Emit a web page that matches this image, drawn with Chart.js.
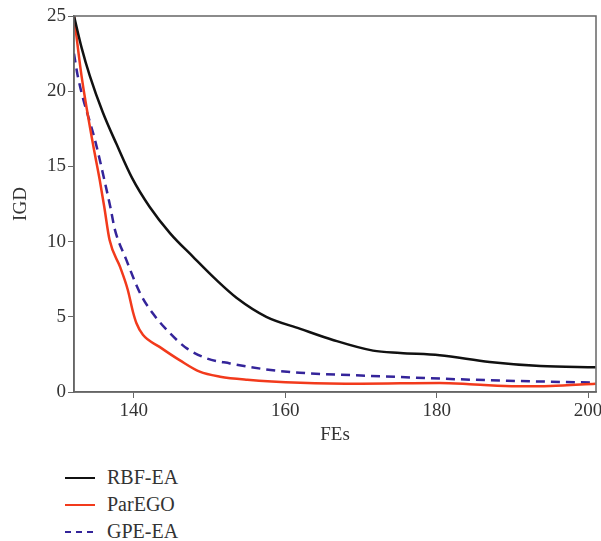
<!DOCTYPE html>
<html>
<head>
<meta charset="utf-8">
<script src="https://cdn.jsdelivr.net/npm/chart.js@4/dist/chart.umd.min.js"></script>
<style>
  html, body { margin: 0; padding: 0; background: #fff; }
  #wrap { position: relative; width: 601px; height: 450px; }
  #legend { position: absolute; left: 65px; top: 464px; font-family: "Liberation Serif", serif; font-size: 20px; color: #333; }
  .item { height: 27px; display: flex; align-items: center; }
  .sw { width: 30px; height: 2px; margin-right: 12px; }
</style>
</head>
<body>
<div id="wrap"><canvas id="c"></canvas></div>
<div id="legend"></div>
<script>
const seriesNames = ["RBF-EA", "ParEGO", "GPE-EA"];
const rbfX = [132.1, 133.1, 134.2, 135.9, 137.7, 139.8, 142.1, 144.8, 147.8, 150.9, 153.6, 157.5, 162.0, 166.3, 171.6, 175.2, 180.4, 187, 193.7, 201];
const rbfY = [25, 22.9, 21.0, 18.6, 16.5, 14.2, 12.3, 10.55, 9.0, 7.45, 6.25, 5.0, 4.2, 3.46, 2.75, 2.6, 2.45, 2.0, 1.73, 1.64];
const parX = [132.1, 133.1, 134.6, 135.5, 136.1, 136.8, 138.2, 139.2, 139.9, 140.35, 141.2, 143.4, 146.1, 148.7, 151.4, 155, 162, 170, 180.4, 185, 190.6, 195, 201];
const parY = [25, 21.0, 16.5, 14.1, 12.3, 10.1, 8.3, 6.8, 5.3, 4.57, 3.8, 3.0, 2.1, 1.35, 1.02, 0.82, 0.62, 0.55, 0.6, 0.5, 0.38, 0.4, 0.55];
const gpeX = [132.1, 132.6, 135.0, 136.2, 136.9, 137.5, 139.0, 140.8, 142.55, 144.8, 147.0, 149.6, 152.7, 157.5, 161.9, 170, 181, 189.3, 201];
const gpeY = [22.5, 21.0, 16.5, 13.9, 12.3, 10.8, 8.8, 6.6, 5.2, 3.9, 2.9, 2.24, 1.9, 1.5, 1.28, 1.1, 0.88, 0.75, 0.62];
const xTicks = [140, 160, 180, 200];
const xMin = 132.1, xMax = 201.05;
const yMin = 0, yMax = 25, yStep = 5;
const colors = ["#111111", "#f23a1c", "#34249a"];
const dashes = [[], [], [9, 6]];

function pts(xs, ys) { return xs.map((x, i) => ({ x: x, y: ys[i] })); }
const seriesData = [pts(rbfX, rbfY), pts(parX, parY), pts(gpeX, gpeY)];

const boxPlugin = {
  id: 'box',
  afterDraw(chart) {
    const a = chart.chartArea, ctx = chart.ctx;
    ctx.save();
    ctx.strokeStyle = '#666';
    ctx.lineWidth = 1.5;
    ctx.strokeRect(a.left, a.top, a.right - a.left, a.bottom - a.top);
    ctx.restore();
  }
};

const font = { family: "Liberation Serif", size: 19 };

new Chart(document.getElementById('c'), {
  type: 'line',
  data: {
    datasets: seriesNames.map((n, i) => ({
      label: n,
      data: seriesData[i],
      borderColor: colors[i],
      borderWidth: 2.5,
      borderDash: dashes[i],
      pointRadius: 0,
      fill: false,
      cubicInterpolationMode: 'monotone'
    }))
  },
  options: {
    responsive: true,
    maintainAspectRatio: false,
    animation: false,
    layout: { padding: { top: 16, right: 5, left: 0, bottom: 0 } },
    plugins: { legend: { display: false }, tooltip: { enabled: false } },
    scales: {
      x: {
        type: 'linear', min: xMin, max: xMax,
        afterBuildTicks(s) { s.ticks = xTicks.map(v => ({ value: v })); },
        afterFit(s) { s.height = 58; s.paddingRight = 0; s.paddingLeft = 0; },
        grid: { drawOnChartArea: false, drawTicks: true, tickLength: 6, color: '#666' },
        border: { color: '#666', width: 1.5 },
        ticks: { font: font, color: '#333', padding: 2, maxRotation: 0 },
        title: { display: true, text: 'FEs', font: font, color: '#333', padding: { top: 0, bottom: 4 } }
      },
      y: {
        min: yMin, max: yMax,
        ticks: { stepSize: yStep, font: font, color: '#333', padding: 2 },
        afterFit(s) { s.width = 74; s.paddingTop = 0; s.paddingBottom = 0; },
        grid: { drawOnChartArea: false, drawTicks: true, tickLength: 6, color: '#666' },
        border: { color: '#666', width: 1.5 },
        title: { display: true, text: 'IGD', font: font, color: '#333', padding: { top: 10, bottom: 0 } }
      }
    }
  },
  plugins: [boxPlugin]
});

const leg = document.getElementById('legend');
seriesNames.forEach((n, i) => {
  const d = document.createElement('div');
  d.className = 'item';
  const sw = document.createElement('span');
  sw.className = 'sw';
  sw.style.background = dashes[i].length
    ? 'repeating-linear-gradient(to right, ' + colors[i] + ' 0 6px, transparent 6px 11px)'
    : colors[i];
  const t = document.createElement('span');
  t.textContent = n;
  d.appendChild(sw); d.appendChild(t);
  leg.appendChild(d);
});
</script>
</body>
</html>
